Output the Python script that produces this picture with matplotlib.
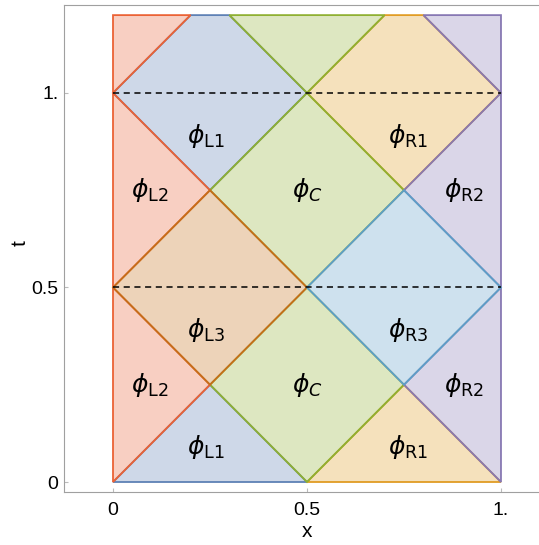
import matplotlib.pyplot as plt
from matplotlib.patches import Polygon

plt.rcParams['font.family'] = ['Liberation Sans', 'DejaVu Sans']
plt.rcParams['mathtext.fontset'] = 'dejavusans'

# region polygons in (x, t), grouped per solution piece
phi_L1 = [[(0, 0), (0.5, 0), (0.25, 0.25)],
          [(0, 1), (0.25, 0.75), (0.5, 1), (0.3, 1.2), (0.2, 1.2)]]
phi_R1 = [[(0.5, 0), (1, 0), (0.75, 0.25)],
          [(0.5, 1), (0.75, 0.75), (1, 1), (0.8, 1.2), (0.7, 1.2)]]
phi_C = [[(0.25, 0.25), (0.5, 0), (0.75, 0.25), (0.5, 0.5)],
         [(0.25, 0.75), (0.5, 0.5), (0.75, 0.75), (0.5, 1)],
         [(0.3, 1.2), (0.5, 1), (0.7, 1.2)]]
phi_L2 = [[(0, 0), (0.25, 0.25), (0, 0.5)],
          [(0, 0.5), (0.25, 0.75), (0, 1)],
          [(0, 1), (0.2, 1.2), (0, 1.2)]]
phi_R2 = [[(1, 0), (0.75, 0.25), (1, 0.5)],
          [(1, 0.5), (0.75, 0.75), (1, 1)],
          [(1, 1), (0.8, 1.2), (1, 1.2)]]
phi_L3 = [[(0, 0.5), (0.25, 0.25), (0.5, 0.5), (0.25, 0.75)]]
phi_R3 = [[(0.5, 0.5), (0.75, 0.25), (1, 0.5), (0.75, 0.75)]]

regions = [phi_L1, phi_R1, phi_C, phi_L2, phi_R2, phi_L3, phi_R3]
colors = ['#5E81B5', '#E19C24', '#8FB032', '#EB6235', '#8778B3', '#C56E1A', '#5D9EC7']

labels = [r'$\phi_{\mathrm{L1}}$', r'$\phi_{\mathrm{L1}}$',
          r'$\phi_{\mathrm{R1}}$', r'$\phi_{\mathrm{R1}}$',
          r'$\phi_C$', r'$\phi_C$',
          r'$\phi_{\mathrm{L2}}$', r'$\phi_{\mathrm{L2}}$',
          r'$\phi_{\mathrm{R2}}$', r'$\phi_{\mathrm{R2}}$',
          r'$\phi_{\mathrm{L3}}$', r'$\phi_{\mathrm{R3}}$']
label_x = [0.24, 0.24, 0.76, 0.76, 0.5, 0.5, 0.095, 0.095, 0.905, 0.905, 0.24, 0.76]
label_t = [0.09, 0.89, 0.09, 0.89, 0.25, 0.75, 0.25, 0.75, 0.25, 0.75, 0.39, 0.39]

dash_t = [0.5, 1.0]

fig = plt.figure(figsize=(5.39, 5.45), dpi=100)
ax = fig.add_axes([64 / 539, 53 / 545, 475 / 539, 487 / 545])

for polys, c in zip(regions, colors):
    for p in polys:
        ax.add_patch(Polygon(p, closed=True, facecolor=c, alpha=0.3, edgecolor='none'))
        ax.add_patch(Polygon(p, closed=True, facecolor='none', edgecolor=c, lw=1.3))

for t in dash_t:
    ax.plot([0, 1], [t, t], color='black', lw=1.1, ls=(0, (4, 3)))

for s, x, t in zip(labels, label_x, label_t):
    ax.text(x, t, s, fontsize=18, ha='center', va='center')

ax.set_xlim(-0.1263, 1.098)
ax.set_ylim(-0.0257, 1.226)
ax.set_xticks([0, 0.5, 1])
ax.set_xticklabels(['0', '0.5', '1.'])
ax.set_yticks([0, 0.5, 1])
ax.set_yticklabels(['0', '0.5', '1.'])
ax.tick_params(direction='in', length=3, color='#bbbbbb', labelsize=14)
ax.tick_params(axis='x', pad=7)
ax.tick_params(axis='y', pad=4)
for side in ['left', 'bottom', 'top']:
    ax.spines[side].set_color('#a0a0a0')
ax.spines['right'].set_visible(False)

ax.set_xlabel('x', fontsize=15, va='center')
ax.xaxis.set_label_coords(0.5116, -0.082)
ax.set_ylabel('t', fontsize=15, va='center')
ax.yaxis.set_label_coords(-0.0926, 0.511)

fig.savefig('out.png', dpi=100)
